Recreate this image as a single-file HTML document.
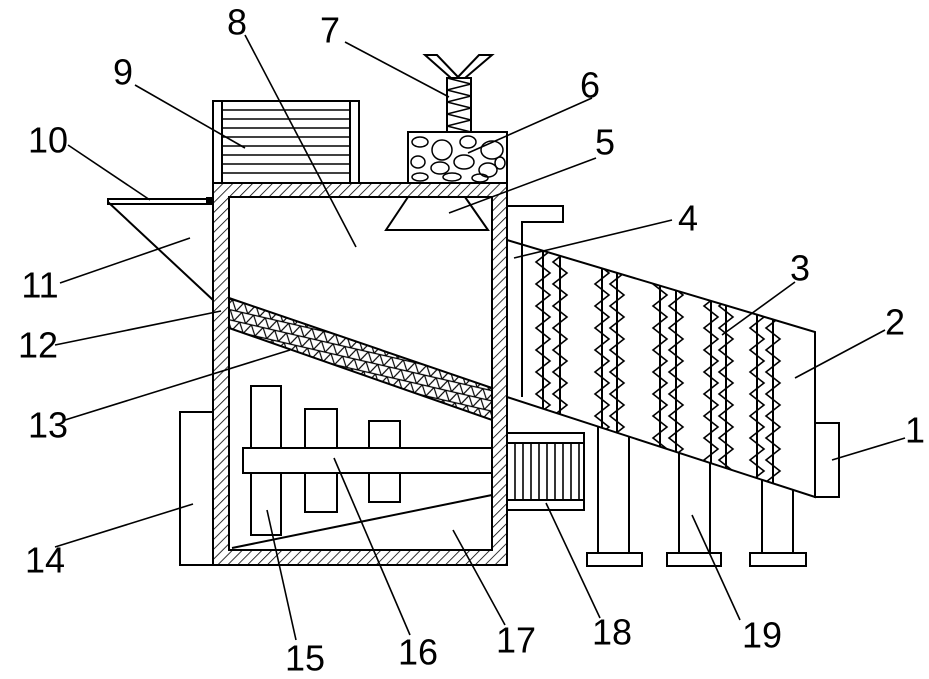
<!DOCTYPE html>
<html><head><meta charset="utf-8"><style>
html,body{margin:0;padding:0;background:#fff;}
svg{display:block;}
text{font-family:"Liberation Sans",sans-serif;font-size:36px;fill:#000;text-anchor:middle;dominant-baseline:central;}
</style></head><body>
<svg width="929" height="679" viewBox="0 0 929 679" xmlns="http://www.w3.org/2000/svg" fill="none" stroke="#000" stroke-width="2">
<defs>
<pattern id="h" width="7" height="7" patternUnits="userSpaceOnUse" patternTransform="rotate(45)">
<line x1="0" y1="0" x2="0" y2="7" stroke="#000" stroke-width="1.6"/>
</pattern>
<pattern id="m" width="12" height="10" patternUnits="userSpaceOnUse" patternTransform="rotate(13)">
<path d="M0 10 L6 0 L12 10 M0 0 L12 0 M0 10 L12 10" stroke="#000" stroke-width="1.2" fill="none"/>
</pattern>
<clipPath id="dc"><path d="M507 240 L815 332 V497 L507 397 Z"/></clipPath>
<path id="zz" d="M-7 240 l14 11 l-14 11 l14 11 l-14 11 l14 11 l-14 11 l14 11 l-14 11 l14 11 l-14 11 l14 11 l-14 11 l14 11 l-14 11 l14 11 l-14 11 l14 11 l-14 11 l14 11 l-14 11 l14 11 l-14 11 l14 11 l-14 11 l14 11 l-14 11" stroke-width="1.6"/>
</defs>
<path d="M213 183 H507 V565 H213 Z M229 197 V550 H492 V197 Z" fill="url(#h)" fill-rule="evenodd"/>
<rect x="213" y="101" width="146" height="82" fill="#fff"/>
<line x1="222" y1="101" x2="222" y2="183"/><line x1="350" y1="101" x2="350" y2="183"/>
<g stroke-width="1.6">
<line x1="222" y1="110" x2="350" y2="110"/><line x1="222" y1="119" x2="350" y2="119"/><line x1="222" y1="128" x2="350" y2="128"/>
<line x1="222" y1="137" x2="350" y2="137"/><line x1="222" y1="146" x2="350" y2="146"/><line x1="222" y1="155" x2="350" y2="155"/>
<line x1="222" y1="164" x2="350" y2="164"/><line x1="222" y1="173" x2="350" y2="173"/>
</g>
<rect x="408" y="132" width="99" height="51" fill="#fff"/>
<g stroke-width="1.5">
<ellipse cx="420" cy="142" rx="8" ry="5"/><ellipse cx="442" cy="150" rx="10" ry="10"/><ellipse cx="468" cy="142" rx="8" ry="6"/><ellipse cx="492" cy="150" rx="11" ry="9"/>
<ellipse cx="418" cy="162" rx="7" ry="6"/><ellipse cx="440" cy="168" rx="9" ry="6"/><ellipse cx="464" cy="162" rx="10" ry="7"/><ellipse cx="488" cy="170" rx="9" ry="7"/>
<ellipse cx="420" cy="177" rx="8" ry="4"/><ellipse cx="452" cy="177" rx="9" ry="4"/><ellipse cx="480" cy="178" rx="8" ry="4"/><ellipse cx="500" cy="163" rx="5" ry="6"/>
</g>
<rect x="447" y="78" width="24" height="54" fill="#fff"/>
<polyline stroke-width="1.6" points="447,78 471,84 447,90 471,96 447,102 471,108 447,114 471,120 447,126 471,132"/>
<path d="M425 55 H437 L458 77 L479 55 H492 L465 78 H451 Z" fill="#fff"/>
<path d="M408 197 L386 230 H488 L465 197"/>
<path d="M229 298 L492 388 V420 L229 328 Z" fill="url(#m)"/>
<rect x="251" y="386" width="30" height="149" fill="#fff"/>
<rect x="305" y="409" width="32" height="103" fill="#fff"/>
<rect x="369" y="421" width="31" height="81" fill="#fff"/>
<rect x="243" y="448" width="249" height="25" fill="#fff"/>
<line x1="232" y1="548" x2="492" y2="495"/>
<rect x="180" y="412" width="33" height="153"/>
<rect x="108" y="199" width="102" height="5"/>
<rect x="207" y="198" width="5" height="6" fill="#000"/>
<line x1="108" y1="202" x2="213" y2="300"/>
<path d="M507 206 H563 V222 H522 V397"/>
<path d="M507 240 L815 332 V497 L507 397"/>
<g clip-path="url(#dc)">
<line x1="543" y1="240" x2="543" y2="500"/><line x1="560" y1="240" x2="560" y2="500"/>
<line x1="602" y1="240" x2="602" y2="500"/><line x1="617" y1="240" x2="617" y2="500"/>
<line x1="660" y1="240" x2="660" y2="500"/><line x1="676" y1="240" x2="676" y2="500"/>
<line x1="711" y1="240" x2="711" y2="500"/><line x1="726" y1="240" x2="726" y2="500"/>
<line x1="757" y1="240" x2="757" y2="500"/><line x1="773" y1="240" x2="773" y2="500"/>
<use href="#zz" x="543"/><use href="#zz" x="560"/><use href="#zz" x="602"/><use href="#zz" x="617"/>
<use href="#zz" x="660"/><use href="#zz" x="676"/><use href="#zz" x="711"/><use href="#zz" x="726"/>
<use href="#zz" x="757"/><use href="#zz" x="773"/>
</g>
<rect x="815" y="423" width="24" height="74"/>
<rect x="507" y="433" width="77" height="77"/>
<line x1="507" y1="443" x2="584" y2="443"/><line x1="507" y1="500" x2="584" y2="500"/>
<g stroke-width="1.6">
<line x1="515" y1="443" x2="515" y2="500"/><line x1="523" y1="443" x2="523" y2="500"/><line x1="531" y1="443" x2="531" y2="500"/>
<line x1="539" y1="443" x2="539" y2="500"/><line x1="547" y1="443" x2="547" y2="500"/><line x1="555" y1="443" x2="555" y2="500"/>
<line x1="563" y1="443" x2="563" y2="500"/><line x1="571" y1="443" x2="571" y2="500"/><line x1="579" y1="443" x2="579" y2="500"/>
</g>
<line x1="598" y1="426.5" x2="598" y2="553"/><line x1="629" y1="436.6" x2="629" y2="553"/>
<rect x="587" y="553" width="55" height="13"/>
<line x1="679" y1="452.8" x2="679" y2="553"/><line x1="710" y1="462.9" x2="710" y2="553"/>
<rect x="667" y="553" width="54" height="13"/>
<line x1="762" y1="479.8" x2="762" y2="553"/><line x1="793" y1="489.9" x2="793" y2="553"/>
<rect x="750" y="553" width="56" height="13"/>
<g stroke-width="1.6">
<line x1="245" y1="35" x2="356" y2="247"/>
<line x1="345" y1="42" x2="449" y2="97"/>
<line x1="135" y1="85" x2="245" y2="148"/>
<line x1="592" y1="98" x2="468" y2="153"/>
<line x1="68" y1="145" x2="150" y2="200"/>
<line x1="596" y1="158" x2="449" y2="213"/>
<line x1="672" y1="220" x2="514" y2="258"/>
<line x1="795" y1="282" x2="722" y2="335"/>
<line x1="60" y1="283" x2="190" y2="238"/>
<line x1="885" y1="330" x2="795" y2="378"/>
<line x1="55" y1="345" x2="221" y2="311"/>
<line x1="65" y1="420" x2="290" y2="350"/>
<line x1="905" y1="438" x2="832" y2="460"/>
<line x1="55" y1="547" x2="193" y2="504"/>
<line x1="296" y1="640" x2="267" y2="510"/>
<line x1="410" y1="635" x2="334" y2="458"/>
<line x1="505" y1="625" x2="453" y2="530"/>
<line x1="600" y1="618" x2="546" y2="503"/>
<line x1="740" y1="620" x2="692" y2="515"/>
</g>
<g stroke="none">
<text x="237" y="22">8</text><text x="330" y="30">7</text><text x="123" y="72">9</text>
<text x="590" y="85">6</text><text x="48" y="140">10</text><text x="605" y="142">5</text>
<text x="688" y="218">4</text><text x="800" y="268">3</text><text x="40" y="285">11</text>
<text x="895" y="322">2</text><text x="38" y="345">12</text><text x="48" y="425">13</text>
<text x="915" y="430">1</text><text x="45" y="560">14</text><text x="305" y="658">15</text>
<text x="418" y="652">16</text><text x="516" y="640">17</text><text x="612" y="632">18</text>
<text x="762" y="635">19</text>
</g>
</svg>
</body></html>
